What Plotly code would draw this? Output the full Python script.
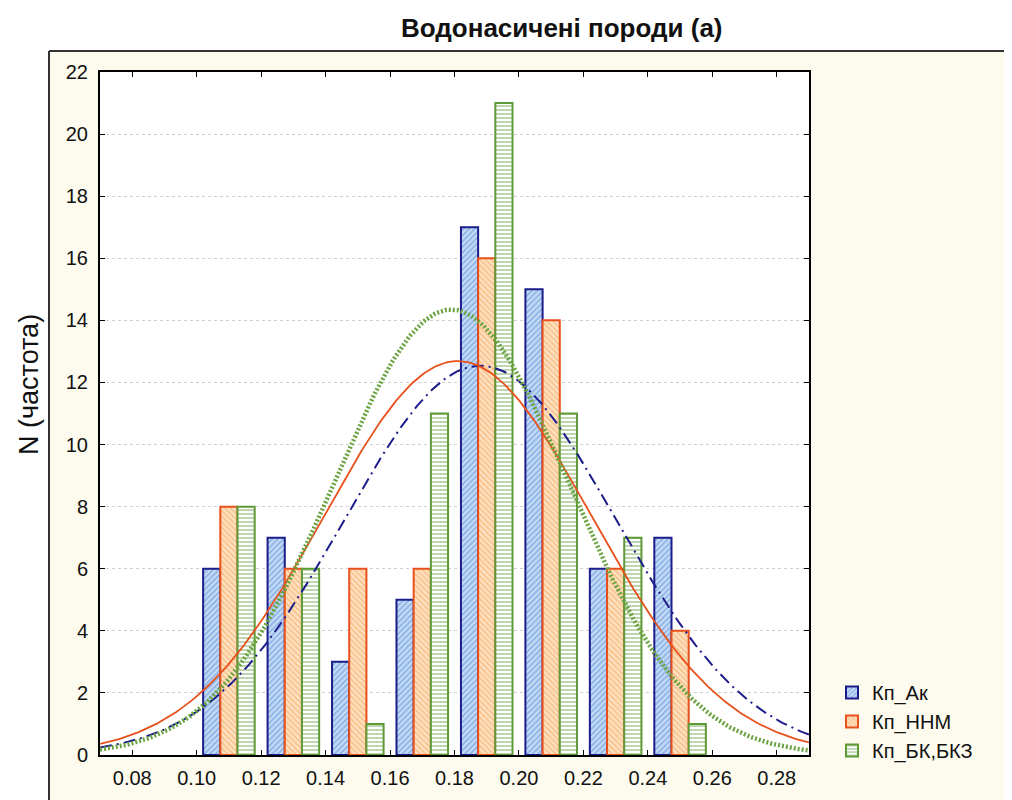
import numpy as np
import plotly.graph_objects as go

# ---- data ----
bin_centers = [0.11, 0.13, 0.15, 0.17, 0.19, 0.21, 0.23, 0.25]
kp_ak = [6, 7, 3, 5, 17, 15, 6, 7]
kp_nnm = [8, 6, 6, 6, 16, 14, 6, 4]
kp_bk = [8, 6, 1, 11, 21, 11, 7, 1]
series_names = ["Кп_Ак", "Кп_ННМ", "Кп_БК,БКЗ"]

bin_width = 0.02
# fitted normal curves (mean, sigma)
fit_mean = [0.188, 0.181, 0.179]
fit_sigma = [0.0420, 0.0415, 0.0367]

x_ticks = [0.08, 0.10, 0.12, 0.14, 0.16, 0.18, 0.20, 0.22, 0.24, 0.26, 0.28]
y_ticks = list(range(0, 23, 2))

title_text = "Водонасичені породи (а)"
y_title = "N (частота)"

# ---- styling ----
OFF = 8  # page body margin
W, H = 1012 - OFF, 800 - OFF
# plot area in reference-page pixels
L, R, T, B = 100 - OFF, 809 - OFF, 72 - OFF, 755 - OFF
FONT = "Liberation Sans, Arial, sans-serif"

line_colors = ["#1c1c8a", "#e8501c", "#5e9a36"]
bg_colors = ["#c6dcf6", "#fde2c4", "#ffffff"]
fg_colors = ["#4f86d6", "#f5a04e", "#6fa352"]
shapes_pat = ["/", "\\", "-"]

fig = go.Figure()

for vals, name, lc, bc, fc, sh in zip([kp_ak, kp_nnm, kp_bk], series_names,
                                      line_colors, bg_colors, fg_colors, shapes_pat):
    fig.add_trace(go.Bar(
        x=bin_centers, y=vals, name=name,
        marker=dict(color=bc, line=dict(color=lc, width=2),
                    pattern=dict(shape=sh, fgcolor=fc, bgcolor=bc, size=4, solidity=0.45)),
    ))

xs = np.linspace(0.07, 0.29, 300)
dashes = ["12px,5px,2px,5px", "solid", "2px,2px"]
widths = [2, 1.8, 4.5]
curve_colors = ["#1c1c8a", "#e8501c", "#6aa340"]
for vals, m, s, lc, d, w in zip([kp_ak, kp_nnm, kp_bk], fit_mean, fit_sigma,
                                curve_colors, dashes, widths):
    n = sum(vals)
    ys = n * bin_width / (s * np.sqrt(2 * np.pi)) * np.exp(-0.5 * ((xs - m) / s) ** 2)
    fig.add_trace(go.Scatter(x=xs, y=ys, mode="lines", showlegend=False,
                             line=dict(color=lc, width=w, dash=d),
                             hoverinfo="skip"))

pw = R - L
ph = B - T
def px2x(p):
    return (p - OFF - L) / pw
def px2y(p):
    return (B - (p - OFF)) / ph

fig.update_layout(
    width=W, height=H,
    margin=dict(l=L, r=W - R, t=T, b=H - B, autoexpand=False),
    paper_bgcolor="white",
    plot_bgcolor="rgba(0,0,0,0)",
    barmode="group", bargap=0.2, bargroupgap=0.0,
    font=dict(family=FONT, size=20, color="#111111"),
    showlegend=True,
    legend=dict(x=px2x(832), y=px2y(673), xanchor="left", yanchor="top",
                bgcolor="rgba(0,0,0,0)", font=dict(size=20, family=FONT),
                itemsizing="constant"),
    xaxis=dict(range=[0.07, 0.29], tickvals=x_ticks, tickformat=".2f",
               ticks="inside", ticklen=5, tickcolor="black", showgrid=False,
               showline=True, linecolor="black", linewidth=2, mirror="allticks",
               zeroline=False, tickfont=dict(size=20), ticklabelstandoff=4),
    yaxis=dict(range=[0, 22], tickvals=y_ticks, ticks="inside", ticklen=5,
               tickcolor="black", showgrid=True, gridcolor="#cfcfcf",
               griddash="dot", gridwidth=1, showline=True, linecolor="black",
               linewidth=2, mirror="allticks", zeroline=False,
               tickfont=dict(size=20), ticklabelstandoff=6),
    shapes=[
        dict(type="rect", xref="paper", yref="paper", layer="below",
             x0=px2x(49), x1=px2x(1040), y0=px2y(830), y1=px2y(51),
             fillcolor="#fdfbee", line=dict(width=0)),
        dict(type="line", xref="paper", yref="paper", layer="below",
             x0=px2x(49), x1=px2x(1040), y0=px2y(51), y1=px2y(51),
             line=dict(color="#333333", width=2)),
        dict(type="line", xref="paper", yref="paper", layer="below",
             x0=px2x(49), x1=px2x(49), y0=px2y(51), y1=px2y(830),
             line=dict(color="#333333", width=2)),
        dict(type="rect", xref="paper", yref="paper", layer="below",
             x0=0, x1=1, y0=0, y1=1, fillcolor="white", line=dict(width=0)),
    ],
    annotations=[
        dict(text=f"<b>{title_text}</b>", xref="paper", yref="paper",
             x=px2x(562), y=px2y(28), xanchor="center", yanchor="middle",
             showarrow=False, font=dict(size=26, family=FONT, color="#111111")),
        dict(text=y_title, xref="paper", yref="paper", textangle=-90,
             x=px2x(29), y=px2y(385), xanchor="center", yanchor="middle",
             showarrow=False, font=dict(size=27, family=FONT, color="#111111")),
    ],
)

fig.write_html("out.html")
